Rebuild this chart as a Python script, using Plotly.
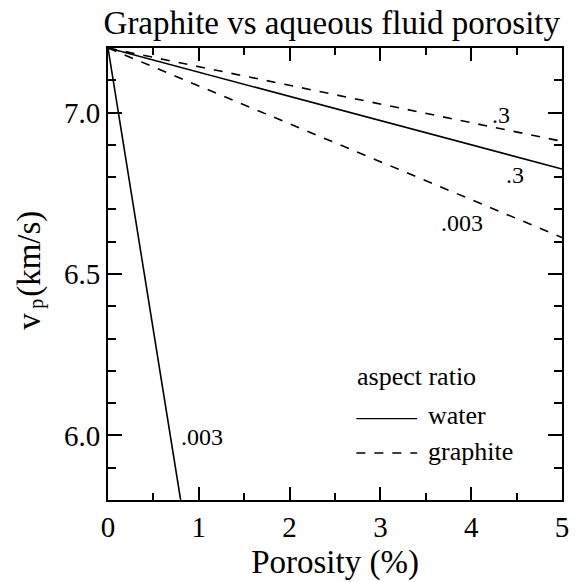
import plotly.graph_objects as go

# Data (porosity %, vp km/s)
porosity_end = [0.0, 5.0]
water_03 = [7.2, 6.825]
graphite_03 = [7.2, 6.911]
graphite_003 = [7.2, 6.613]
water_003_x = [0.0, 0.80]
water_003_y = [7.2, 5.80]

x_range = [0, 5]
y_range = [5.8, 7.2]

FONT = "Liberation Serif"
INK = "#000000"
CLEAR = "rgba(0,0,0,0)"

fig = go.Figure()
solid = dict(color=INK, width=1.6)
dashed = dict(color=INK, width=1.6, dash="dash")

fig.add_trace(go.Scatter(x=water_003_x, y=water_003_y, mode="lines", line=solid, showlegend=False))
fig.add_trace(go.Scatter(x=porosity_end, y=water_03, mode="lines", line=solid, showlegend=False))
fig.add_trace(go.Scatter(x=porosity_end, y=graphite_03, mode="lines", line=dashed, showlegend=False))
fig.add_trace(go.Scatter(x=porosity_end, y=graphite_003, mode="lines", line=dashed, showlegend=False))

lab_font = dict(family=FONT, size=24, color=INK)
labels = [
    (4.33, 6.994, ".3"),
    (4.48, 6.806, ".3"),
    (3.90, 6.658, ".003"),
    (1.04, 5.994, ".003"),
]
for x, y, t in labels:
    fig.add_annotation(x=x, y=y, text=t, showarrow=False, font=lab_font,
                       xanchor="center", yanchor="middle")

# manual legend
leg_font = dict(family=FONT, size=26, color=INK)
fig.add_annotation(xref="paper", yref="paper", x=0.545, y=0.274, text="aspect ratio",
                   showarrow=False, font=leg_font, xanchor="left", yanchor="middle")
fig.add_shape(type="line", xref="paper", yref="paper", x0=0.547, x1=0.681, y0=0.180, y1=0.180,
              line=dict(color=INK, width=1.3))
fig.add_annotation(xref="paper", yref="paper", x=0.700, y=0.186, text="water",
                   showarrow=False, font=leg_font, xanchor="left", yanchor="middle")
fig.add_shape(type="line", xref="paper", yref="paper", x0=0.547, x1=0.681, y0=0.104, y1=0.104,
              line=dict(color=INK, width=1.6, dash="dash"))
fig.add_annotation(xref="paper", yref="paper", x=0.700, y=0.108, text="graphite",
                   showarrow=False, font=leg_font, xanchor="left", yanchor="middle")

# y-axis title (rotated): "v" + subscript "p" + "(km/s)"
fig.add_annotation(xref="paper", yref="paper", x=-0.172, y=0.509,
                   text="v\u00a0\u00a0(km/s)", textangle=-90, showarrow=False,
                   xanchor="center", yanchor="middle",
                   font=dict(family=FONT, size=33, color=INK))
fig.add_annotation(xref="paper", yref="paper", x=-0.158, y=0.435,
                   text="p", textangle=-90, showarrow=False,
                   xanchor="center", yanchor="middle",
                   font=dict(family=FONT, size=20, color=INK))

tickfont = dict(family=FONT, size=29, color=INK)
titlefont = dict(family=FONT, size=33, color=INK)

fig.update_layout(
    width=577, height=582,
    margin=dict(l=108, r=8, t=48, b=74),
    plot_bgcolor="white", paper_bgcolor="white",
    font=dict(family=FONT, color=INK),
    title=dict(text="Graphite vs aqueous fluid porosity", x=0.575, xanchor="center",
               y=0.962, yanchor="middle", font=dict(family=FONT, size=33, color=INK)),
    xaxis=dict(range=x_range, dtick=1, gridcolor=CLEAR, zerolinecolor=CLEAR,
               showline=True, linecolor=INK, linewidth=2, mirror="allticks",
               ticks="inside", ticklen=13, tickwidth=2, tickcolor=INK,
               minor=dict(dtick=0.5, ticks="inside", ticklen=7, tickwidth=2, tickcolor=INK),
               tickfont=tickfont,
               title=dict(text="Porosity (%)", font=titlefont, standoff=8)),
    yaxis=dict(range=y_range, dtick=0.5, tickformat=".1f", gridcolor=CLEAR, zerolinecolor=CLEAR,
               showline=True, linecolor=INK, linewidth=2, mirror="allticks",
               ticks="inside", ticklen=14, tickwidth=2, tickcolor=INK,
               minor=dict(dtick=0.1, ticks="inside", ticklen=8, tickwidth=2, tickcolor=INK),
               tickfont=tickfont),
)

fig.write_html("out.html")
